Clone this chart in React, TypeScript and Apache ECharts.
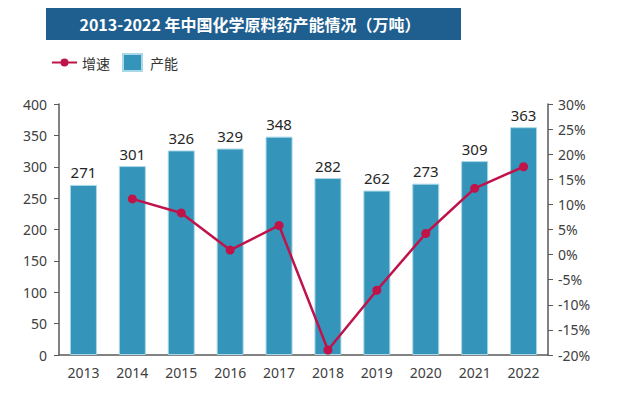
import React, { useEffect, useRef } from "react";
import * as echarts from "echarts";

const years = ["2013", "2014", "2015", "2016", "2017", "2018", "2019", "2020", "2021", "2022"];
const capacity = [271, 301, 326, 329, 348, 282, 262, 273, 309, 363];
const growth = [null, 11.1, 8.3, 0.9, 5.8, -19.0, -7.1, 4.2, 13.2, 17.5];
const titleText = "2013-2022 年中国化学原料药产能情况（万吨）";

const FONT = "'Noto Sans', 'Noto Sans CJK SC', sans-serif";
const LINE_ICON =
  "path://M0,7.5 H25 V9.5 H0 Z M8.5,8.5 A4,4 0 1,1 16.5,8.5 A4,4 0 1,1 8.5,8.5 Z";

export default function App() {
  const ref = useRef<HTMLDivElement>(null);
  useEffect(() => {
    const chart = echarts.init(ref.current!, null, { renderer: "svg" });
    chart.setOption({
      animation: false,
      backgroundColor: "#ffffff",
      textStyle: { fontFamily: FONT },
      graphic: [
        { type: "rect", shape: { x: 46, y: 8, width: 415, height: 32 }, style: { fill: "#1F5F8F" } },
        {
          type: "text",
          x: 250,
          y: 24,
          style: {
            text: titleText,
            fill: "#ffffff",
            font: "bold 16px 'Noto Sans CJK SC', sans-serif",
            align: "center",
            verticalAlign: "middle",
          },
        },
      ],
      legend: {
        left: 52,
        top: 53,
        itemWidth: 25,
        itemHeight: 17,
        itemGap: 12,
        padding: 0,
        textStyle: { fontSize: 14, color: "#333", fontFamily: "'Noto Sans CJK SC', sans-serif" },
        data: [
          { name: "增速", icon: LINE_ICON },
          { name: "产能", icon: "path://M0,0 H19 V17 H0 Z" },
        ],
      },
      grid: { left: 59, right: 70, top: 104, bottom: 38 },
      xAxis: {
        type: "category",
        data: years,
        axisLine: { lineStyle: { color: "#595959", width: 1.5 } },
        axisTick: { show: false },
        axisLabel: { fontSize: 14, color: "#404040", margin: 10 },
      },
      yAxis: [
        {
          type: "value",
          min: 0,
          max: 400,
          interval: 50,
          splitLine: { show: false },
          axisLine: { show: true, lineStyle: { color: "#595959", width: 1.5 } },
          axisTick: { show: true, length: 5, lineStyle: { color: "#595959" } },
          axisLabel: { fontSize: 14, color: "#404040", margin: 12 },
        },
        {
          type: "value",
          min: -20,
          max: 30,
          interval: 5,
          splitLine: { show: false },
          axisLine: { show: true, lineStyle: { color: "#595959", width: 1.5 } },
          axisTick: { show: true, length: 5, lineStyle: { color: "#595959" } },
          axisLabel: { fontSize: 14, color: "#404040", margin: 10, formatter: "{value}%" },
        },
      ],
      series: [
        {
          name: "产能",
          type: "bar",
          data: capacity,
          barWidth: 27,
          itemStyle: { color: "#3494BA", borderColor: "#A9D8E8", borderWidth: 1 },
          label: { show: true, position: "top", fontSize: 15, color: "#262626", distance: 5 },
          z: 2,
        },
        {
          name: "增速",
          type: "line",
          yAxisIndex: 1,
          data: growth,
          symbol: "circle",
          symbolSize: 9,
          lineStyle: { color: "#C0134A", width: 2.5 },
          itemStyle: { color: "#C0134A" },
          z: 3,
        },
      ],
    });
    return () => chart.dispose();
  }, []);
  return <div ref={ref} style={{ width: 618, height: 393, margin: -8 }} />;
}
